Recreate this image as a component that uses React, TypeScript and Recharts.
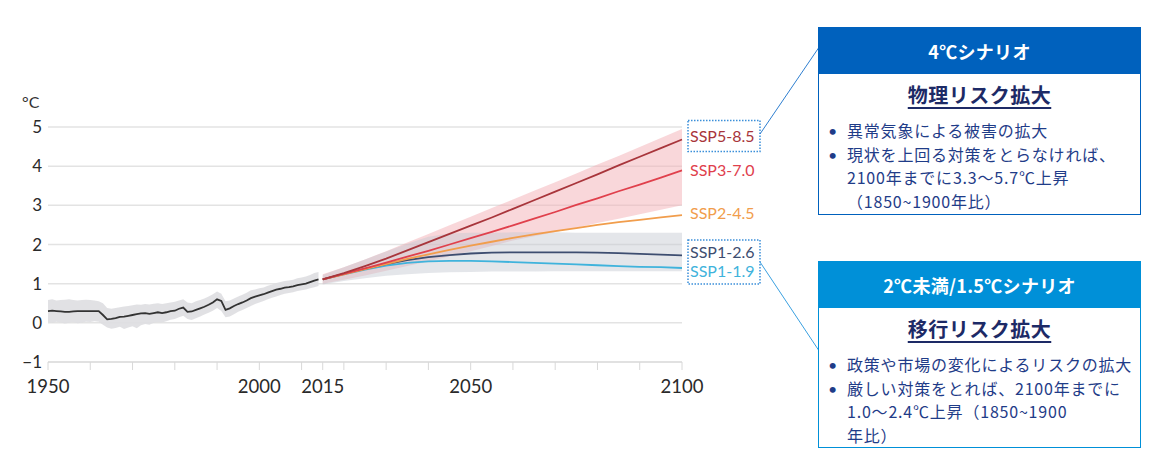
import React from 'react';
import { ComposedChart, Line, Area, XAxis, YAxis, CartesianGrid } from 'recharts';

// observed warming, 1950-2014 (°C vs 1850-1900)
const histYears = [
  1950, 1951, 1952, 1953, 1954, 1955, 1956, 1957, 1958, 1959,
  1960, 1961, 1962, 1963, 1964, 1965, 1966, 1967, 1968, 1969,
  1970, 1971, 1972, 1973, 1974, 1975, 1976, 1977, 1978, 1979,
  1980, 1981, 1982, 1983, 1984, 1985, 1986, 1987, 1988, 1989,
  1990, 1991, 1992, 1993, 1994, 1995, 1996, 1997, 1998, 1999,
  2000, 2001, 2002, 2003, 2004, 2005, 2006, 2007, 2008, 2009,
  2010, 2011, 2012, 2013, 2014,
];
const histMean = [
  0.30, 0.31, 0.30, 0.29, 0.28, 0.28, 0.29, 0.30, 0.30, 0.30,
  0.30, 0.30, 0.30, 0.20, 0.09, 0.10, 0.12, 0.15, 0.16, 0.18,
  0.20, 0.22, 0.24, 0.25, 0.23, 0.25, 0.27, 0.25, 0.27, 0.30,
  0.31, 0.36, 0.39, 0.28, 0.29, 0.33, 0.37, 0.41, 0.46, 0.52,
  0.60, 0.56, 0.33, 0.37, 0.43, 0.48, 0.52, 0.57, 0.63, 0.67,
  0.70, 0.73, 0.77, 0.81, 0.85, 0.87, 0.90, 0.91, 0.93, 0.96,
  0.98, 1.00, 1.04, 1.08, 1.11,
];
const histLow = [
  0.02, 0.00, 0.03, 0.01, -0.02, 0.00, 0.02, -0.01, 0.01, 0.03,
  0.02, 0.04, 0.03, -0.05, -0.12, -0.15, -0.13, -0.10, -0.16, -0.12,
  -0.09, -0.14, -0.06, -0.03, -0.05, 0.00, 0.02, 0.01, 0.04, 0.08,
  0.10, 0.14, 0.18, 0.10, 0.07, 0.12, 0.16, 0.21, 0.26, 0.31,
  0.38, 0.30, 0.14, 0.16, 0.22, 0.28, 0.33, 0.38, 0.43, 0.48,
  0.52, 0.56, 0.60, 0.64, 0.67, 0.71, 0.74, 0.76, 0.78, 0.81,
  0.83, 0.85, 0.88, 0.91, 0.94,
];
const histHigh = [
  0.58, 0.60, 0.57, 0.58, 0.59, 0.60, 0.58, 0.57, 0.58, 0.59,
  0.58, 0.57, 0.55, 0.50, 0.38, 0.36, 0.38, 0.40, 0.42, 0.43,
  0.45, 0.47, 0.46, 0.48, 0.47, 0.49, 0.50, 0.48, 0.50, 0.52,
  0.54, 0.57, 0.60, 0.52, 0.50, 0.55, 0.58, 0.62, 0.67, 0.73,
  0.80, 0.74, 0.55, 0.57, 0.62, 0.67, 0.72, 0.77, 0.83, 0.85,
  0.88, 0.90, 0.95, 0.98, 1.02, 1.04, 1.07, 1.08, 1.10, 1.14,
  1.16, 1.18, 1.22, 1.27, 1.30,
];

// scenario projections, 2015-2100
const projYears = [2015, 2020, 2025, 2030, 2035, 2040, 2045, 2050, 2055, 2060, 2065, 2070, 2075, 2080, 2085, 2090, 2095, 2100];
const ssp585 = [1.11, 1.27, 1.45, 1.64, 1.85, 2.06, 2.27, 2.48, 2.69, 2.91, 3.13, 3.35, 3.57, 3.79, 4.02, 4.24, 4.46, 4.68];
const ssp370 = [1.11, 1.25, 1.39, 1.54, 1.69, 1.84, 2.00, 2.16, 2.32, 2.49, 2.66, 2.83, 3.01, 3.18, 3.36, 3.53, 3.71, 3.89];
const ssp245 = [1.11, 1.24, 1.37, 1.50, 1.63, 1.75, 1.86, 1.97, 2.07, 2.17, 2.26, 2.34, 2.42, 2.50, 2.57, 2.63, 2.69, 2.75];
const ssp126 = [1.11, 1.25, 1.38, 1.50, 1.60, 1.68, 1.73, 1.77, 1.79, 1.80, 1.80, 1.80, 1.80, 1.79, 1.78, 1.76, 1.74, 1.72];
const ssp119 = [1.11, 1.24, 1.36, 1.46, 1.53, 1.57, 1.58, 1.58, 1.57, 1.55, 1.53, 1.51, 1.49, 1.47, 1.45, 1.43, 1.42, 1.40];
const redLow = [1.00, 1.10, 1.21, 1.33, 1.45, 1.57, 1.70, 1.83, 1.96, 2.10, 2.21, 2.32, 2.43, 2.55, 2.66, 2.77, 2.89, 3.00];
const redHigh = [1.24, 1.42, 1.62, 1.83, 2.05, 2.27, 2.49, 2.71, 2.93, 3.15, 3.37, 3.59, 3.81, 4.04, 4.26, 4.49, 4.72, 4.95];
const grayLow = [0.98, 1.07, 1.14, 1.20, 1.24, 1.27, 1.29, 1.30, 1.31, 1.31, 1.31, 1.32, 1.32, 1.32, 1.32, 1.32, 1.32, 1.32];
const grayHigh = [1.22, 1.42, 1.62, 1.82, 2.02, 2.20, 2.28, 2.30, 2.30, 2.31, 2.31, 2.31, 2.30, 2.30, 2.30, 2.30, 2.30, 2.30];

const xTicks = [1950, 1960, 1970, 1980, 1990, 2000, 2010, 2015, 2020, 2030, 2040, 2050, 2060, 2070, 2080, 2090, 2100];
const xLabels = [1950, 2000, 2015, 2050, 2100];
const yTicks = [-1, 0, 1, 2, 3, 4, 5];

const scenarios = [
  { key: 'ssp119', name: 'SSP1-1.9', values: ssp119, color: '#3fb3dc', dy: 5 },
  { key: 'ssp126', name: 'SSP1-2.6', values: ssp126, color: '#3d4d70', dy: -2 },
  { key: 'ssp245', name: 'SSP2-4.5', values: ssp245, color: '#f19d4c', dy: 0 },
  { key: 'ssp370', name: 'SSP3-7.0', values: ssp370, color: '#e0404c', dy: 1 },
  { key: 'ssp585', name: 'SSP5-8.5', values: ssp585, color: '#a8353b', dy: -2 },
];

const histRows = histYears.map((year, i) => ({
  year,
  hist: histMean[i],
  histBand: [histLow[i], histHigh[i]],
}));
const projRows = projYears.map((year, i) => {
  const row: any = { year, redBand: [redLow[i], redHigh[i]], grayBand: [grayLow[i], grayHigh[i]] };
  scenarios.forEach(s => { row[s.key] = s.values[i]; });
  return row;
});
const data = [...histRows, ...projRows];

const endLabel = (s: typeof scenarios[number]) => (props: any) => {
  const { x, y, index } = props;
  if (index !== data.length - 1) return null;
  return (
    <text key={s.key} x={x + 8} y={y + s.dy} fill={s.color} fontSize={16} fontFamily="Lato" dominantBaseline="middle">
      {s.name}
    </text>
  );
};

const boxText: React.CSSProperties = {
  fontFamily: '"Noto Sans CJK JP", sans-serif',
  color: '#1f3c88',
  fontSize: 16,
  letterSpacing: 0.8,
};

const Bullet: React.FC<{ children: React.ReactNode }> = ({ children }) => (
  <div style={{ position: 'relative', paddingLeft: 28, lineHeight: '23.5px' }}>
    <span style={{ position: 'absolute', left: 9, fontFamily: 'Lato', letterSpacing: 0 }}>•</span>
    {children}
  </div>
);

const ScenarioBox: React.FC<{ top: number; height: number; color: string; title: string; heading: string; children: React.ReactNode }> = ({ top, height, color, title, heading, children }) => (
  <div style={{ position: 'absolute', left: 818, top, width: 323, height, border: `1px solid ${color}`, boxSizing: 'border-box', background: '#fff', ...boxText }}>
    <div style={{ background: color, color: '#fff', height: 46, lineHeight: '46px', textAlign: 'center', fontWeight: 700, fontSize: 18, letterSpacing: 0.3 }}>{title}</div>
    <div style={{ textAlign: 'center', fontWeight: 700, fontSize: 20, letterSpacing: 0.5, textDecoration: 'underline', textUnderlineOffset: 4, color: '#1d2a66', marginTop: 6, marginBottom: 9, lineHeight: '30px' }}>{heading}</div>
    {children}
  </div>
);

const App: React.FC = () => {
  return (
    <div style={{ position: 'absolute', left: 0, top: 0, width: 1149, height: 455, background: '#fff', fontFamily: 'Lato, sans-serif', overflow: 'hidden' }}>
      <div style={{ position: 'absolute', left: 22, top: 92, fontSize: 16, color: '#333' }}>°C</div>
      <div style={{ position: 'absolute', left: 0, top: 0 }}>
        <ComposedChart width={780} height={400} data={data} margin={{ top: 127, right: 98, bottom: 8, left: 8 }}>
          <CartesianGrid horizontal vertical={false} stroke="#e3e3e3" strokeWidth={1.5} />
          <XAxis
            dataKey="year"
            type="number"
            domain={[1950, 2100]}
            ticks={xTicks}
            tickFormatter={(v: number) => (xLabels.includes(v) ? String(v) : '')}
            tick={{ fill: '#2a2a2a', fontSize: 18.5, fontFamily: 'Lato' }}
            tickSize={8}
            tickMargin={10}
            stroke="#d8d8d8"
            height={30}
            interval={0}
          />
          <YAxis
            domain={[-1, 5]}
            ticks={yTicks}
            tickFormatter={(v: number) => (v < 0 ? `−${Math.abs(v)}` : String(v))}
            tick={{ fill: '#2a2a2a', fontSize: 17, fontFamily: 'Lato' }}
            axisLine={false}
            tickLine={false}
            tickSize={4}
            tickMargin={2}
            width={40}
            interval={0}
          />
          <Area dataKey="histBand" stroke="none" fill="#dedee1" fillOpacity={0.9} isAnimationActive={false} />
          <Area dataKey="redBand" stroke="none" fill="#f4b0b6" fillOpacity={0.5} isAnimationActive={false} />
          <Area dataKey="grayBand" stroke="none" fill="#c4c8d0" fillOpacity={0.45} isAnimationActive={false} />
          {scenarios.map(s => (
            <Line key={s.key} dataKey={s.key} stroke={s.color} strokeWidth={1.8} dot={false} isAnimationActive={false} label={endLabel(s)} />
          ))}
          <Line dataKey="hist" stroke="#333" strokeWidth={1.8} dot={false} isAnimationActive={false} />
        </ComposedChart>
      </div>
      <svg width={1149} height={455} style={{ position: 'absolute', left: 0, top: 0, pointerEvents: 'none' }}>
        <rect x={688} y={120.5} width={72} height={31} fill="none" stroke="#3b8fd9" strokeWidth={1.5} strokeDasharray="1.5 1.5" />
        <rect x={688} y={240} width={72} height={44} fill="none" stroke="#3b8fd9" strokeWidth={1.5} strokeDasharray="1.5 1.5" />
        <line x1={760} y1={134} x2={818.5} y2={48} stroke="#2f7fd0" strokeWidth={1} />
        <line x1={760} y1={262} x2={818.5} y2={350} stroke="#3aa0e0" strokeWidth={1} />
      </svg>
      <ScenarioBox top={27} height={188} color="#0061bd" title="4℃シナリオ" heading="物理リスク拡大">
        <Bullet>異常気象による被害の拡大</Bullet>
        <Bullet>
          現状を上回る対策をとらなければ、<br />
          2100年までに3.3～5.7℃上昇<br />
          （1850~1900年比）
        </Bullet>
      </ScenarioBox>
      <ScenarioBox top={261} height={187} color="#0090d8" title="2℃未満/1.5℃シナリオ" heading="移行リスク拡大">
        <Bullet>政策や市場の変化によるリスクの拡大</Bullet>
        <Bullet>
          厳しい対策をとれば、2100年までに<br />
          1.0～2.4℃上昇（1850~1900<br />
          年比）
        </Bullet>
      </ScenarioBox>
    </div>
  );
};

export default App;
